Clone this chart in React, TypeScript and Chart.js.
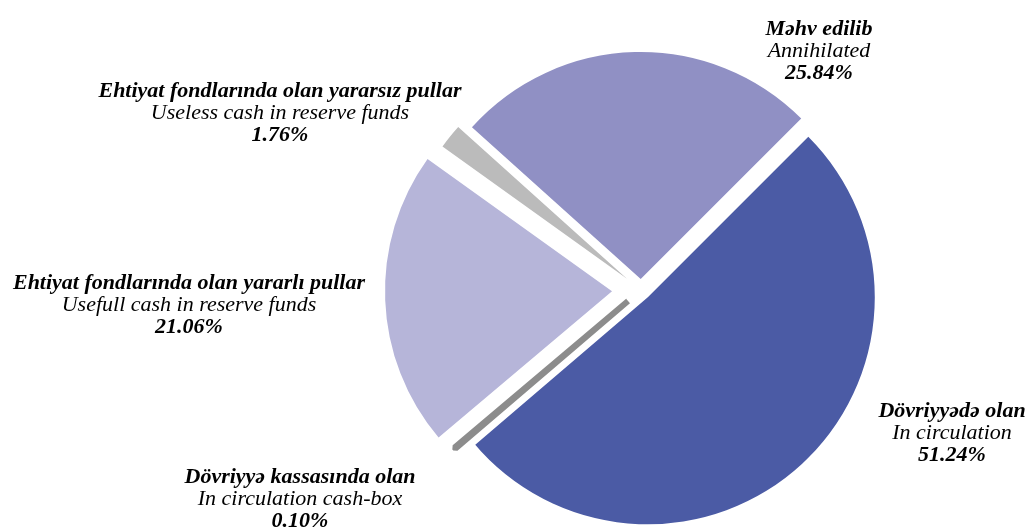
import React, { useEffect, useRef } from "react";
import { Chart, registerables } from "chart.js";

Chart.register(...registerables);

// ---- data ----
const categoriesAz = [
  "Dövriyyədə olan",
  "Dövriyyə kassasında olan",
  "Ehtiyat fondlarında olan yararlı pullar",
  "Ehtiyat fondlarında olan yararsız pullar",
  "Məhv edilib",
];
const categoriesEn = [
  "In circulation",
  "In circulation cash-box",
  "Usefull cash in reserve funds",
  "Useless cash in reserve funds",
  "Annihilated",
];
const shares = [51.24, 0.1, 21.06, 1.76, 25.84];
const shareLabels = ["51.24%", "0.10%", "21.06%", "1.76%", "25.84%"];

// ---- styles ----
const sliceColors = ["#4B5BA5", "#8C8C8C", "#B6B5D9", "#BBBBBB", "#9090C4"];
// explosion distance (px) of each slice along its mid-angle
const sliceExplode = [10, 17, 29, 18, 11];
const sliceBorders = [0, 6, 0, 0, 0];
// label anchor: center x, first-line center y
const labelPos: [number, number][] = [
  [952, 411],
  [300, 477],
  [189, 283],
  [280, 91],
  [819, 29],
];
const lineGap = 22;
const FONT = '"Liberation Serif", "Times New Roman", serif';

const explodePlugin = {
  id: "explodeSlices",
  afterDatasetsUpdate(chart: any) {
    const meta = chart.getDatasetMeta(0);
    meta.data.forEach((arc: any, i: number) => {
      const half = (arc.startAngle + arc.endAngle) / 2;
      const t = sliceExplode[i] || 0;
      arc.x += Math.cos(half) * t;
      arc.y += Math.sin(half) * t;
    });
  },
};

const labelPlugin = {
  id: "sliceLabels",
  afterDraw(chart: any) {
    const ctx = chart.ctx as CanvasRenderingContext2D;
    ctx.save();
    ctx.fillStyle = "#000";
    ctx.textAlign = "center";
    ctx.textBaseline = "middle";
    for (let i = 0; i < categoriesAz.length; i++) {
      const [x, y] = labelPos[i];
      ctx.font = `italic bold 22px ${FONT}`;
      ctx.fillText(categoriesAz[i], x, y);
      ctx.font = `italic 22px ${FONT}`;
      ctx.fillText(categoriesEn[i], x, y + lineGap);
      ctx.font = `italic bold 22px ${FONT}`;
      ctx.fillText(shareLabels[i], x, y + 2 * lineGap);
    }
    ctx.restore();
  },
};

export default function App() {
  const ref = useRef<HTMLCanvasElement | null>(null);
  useEffect(() => {
    if (!ref.current) return;
    const chart = new Chart(ref.current, {
      type: "pie",
      data: {
        labels: categoriesAz,
        datasets: [
          {
            data: shares,
            backgroundColor: sliceColors,
            borderColor: sliceColors,
            borderWidth: sliceBorders,
            borderJoinStyle: "bevel",
            offset: 0,
            hoverOffset: 0,
            rotation: 45,
            radius: 227,
            clip: false,
          } as any,
        ],
      },
      options: {
        animation: false,
        responsive: true,
        maintainAspectRatio: false,
        events: [],
        layout: { padding: { left: 253, top: 53, right: 0, bottom: 0 } },
        plugins: {
          legend: { display: false },
          tooltip: { enabled: false },
        },
      },
      plugins: [explodePlugin, labelPlugin],
    });
    return () => chart.destroy();
  }, []);
  return (
    <div style={{ position: "absolute", left: 0, top: 0, width: 1029, height: 527, background: "#fff" }}>
      <canvas ref={ref} />
    </div>
  );
}
